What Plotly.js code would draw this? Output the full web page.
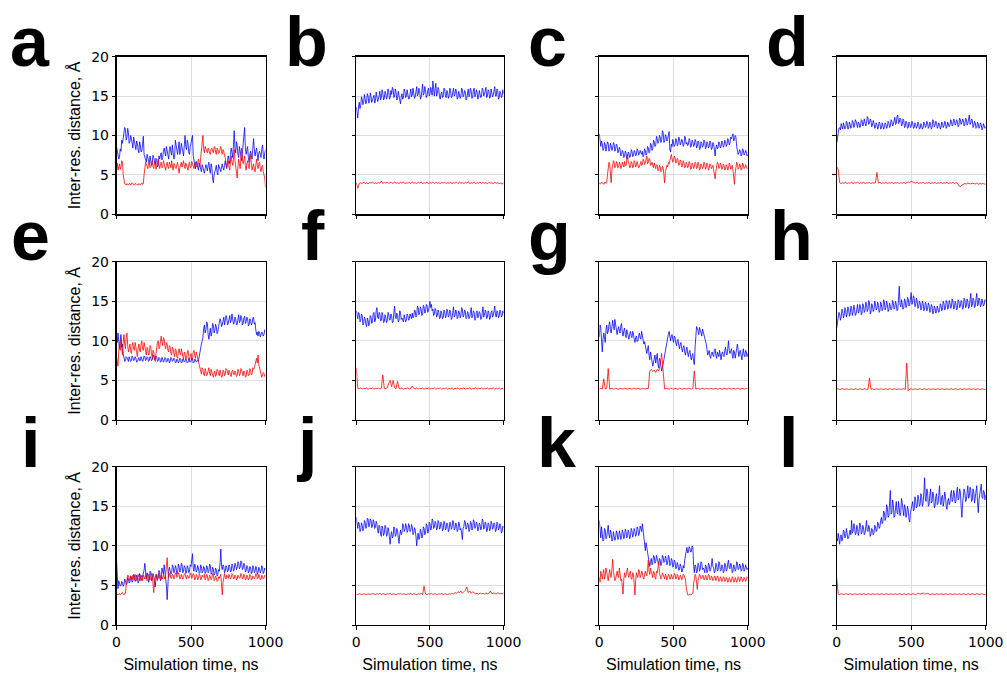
<!DOCTYPE html>
<html><head><meta charset="utf-8">
<script src="https://cdn.plot.ly/plotly-3.0.1.min.js"></script>
<style>html,body{margin:0;padding:0;background:#fff}#chart{width:1007px;height:676px}</style>
</head><body><div id="chart"></div>
<script>
// Panel labels and axis text
const panelLabels = ['a','b','c','d','e','f','g','h','i','j','k','l'];
const xTicks = [0, 500, 1000];
const yTicks = [0, 5, 10, 15, 20];
const xTitle = 'Simulation time, ns';
const yTitle = 'Inter-res. distance, Å';

// Distances (Å), evenly spaced over 0–1000 ns
const aBlue = [8.6,7.9,7.5,7.0,7.2,8.3,8.0,9.4,9.0,9.6,10.2,11.0,10.8,9.4,9.8,10.9,10.4,9.0,9.2,10.0,9.6,8.8,8.4,9.8,9.4,8.6,8.2,9.3,9.0,8.2,7.8,9.2,8.8,7.9,8.0,8.9,9.9,7.6,7.2,6.8,6.6,7.6,7.3,6.7,6.4,7.4,7.0,6.2,6.5,7.5,7.2,6.6,6.3,7.1,6.8,6.0,6.2,7.4,7.0,7.5,7.8,6.9,7.2,8.0,8.4,7.8,7.4,8.6,8.0,7.2,7.0,8.2,8.6,7.9,7.5,8.8,8.2,7.0,7.2,9.4,8.8,7.9,7.6,8.4,9.2,7.6,8.0,9.0,8.6,7.8,7.4,8.8,10.0,8.6,8.2,9.4,9.0,7.8,7.6,8.6,9.2,9.8,10.0,7.4,6.8,6.2,5.8,6.7,6.4,5.9,5.6,6.5,6.2,5.7,5.4,6.3,6.0,5.5,5.2,5.8,6.3,5.9,5.5,6.2,6.6,5.6,5.2,6.4,5.9,4.6,4.0,5.0,5.5,6.0,6.2,5.3,5.0,6.3,6.0,5.7,5.4,6.0,6.4,5.9,5.6,6.2,6.8,6.2,5.8,6.8,7.4,6.9,6.4,7.6,8.4,7.8,7.2,8.8,10.6,8.4,7.8,9.2,8.8,7.6,7.2,8.6,8.2,7.4,6.8,8.2,9.0,10.2,11.0,8.4,7.6,8.2,8.6,7.2,6.6,7.6,8.0,7.4,7.0,8.4,9.6,8.2,7.4,8.0,8.4,7.6,6.8,7.8,8.0,7.6,7.2,8.2,8.8,7.6,7.0,7.8,8.2];
const aRed = [6.0,6.5,5.6,6.1,6.4,5.7,6.0,6.8,6.6,5.0,4.0,3.9,3.8,3.7,3.9,3.8,3.7,3.9,3.9,3.7,3.8,4.0,3.9,3.8,3.7,3.9,3.9,3.8,3.8,3.7,3.9,3.8,3.7,3.9,4.0,3.8,3.9,5.0,6.0,6.6,6.4,5.9,5.8,6.4,6.6,5.9,6.0,6.5,6.8,6.1,5.8,6.6,6.4,5.7,6.0,6.6,7.0,6.1,5.8,6.3,6.6,5.9,6.0,6.8,6.4,5.8,5.6,6.2,6.6,6.0,5.8,6.6,6.2,5.9,6.8,6.2,5.6,6.4,6.4,5.9,5.8,6.3,6.6,5.9,5.2,5.9,6.2,6.6,6.0,6.4,6.8,6.1,5.8,6.5,6.2,5.7,5.6,6.3,6.6,5.9,6.0,6.7,6.4,6.0,5.8,6.4,6.6,6.1,6.0,6.5,7.0,6.4,6.0,7.2,8.0,8.6,10.0,8.2,7.8,8.6,8.4,8.0,7.8,8.4,8.2,7.7,7.6,8.3,8.4,8.0,7.8,8.5,8.6,7.9,7.6,8.4,8.2,7.7,7.8,8.3,8.6,8.0,7.6,8.2,8.0,7.4,7.2,6.4,6.0,6.4,6.8,6.0,5.6,6.6,7.4,6.6,6.2,7.0,8.2,6.8,6.0,5.4,4.6,6.0,7.0,6.4,5.8,7.2,8.4,7.0,6.4,6.9,7.4,6.2,5.6,6.4,6.8,6.2,5.8,6.8,7.6,6.4,5.6,6.0,6.4,5.8,5.4,6.2,7.0,6.2,5.8,6.4,6.6,5.8,5.4,6.0,6.2,5.4,5.0,4.6,3.4];
const bBlue = [13.6,12.4,12.2,13.6,14.2,13.4,13.8,14.9,14.6,13.9,14.2,15.2,14.8,14.0,14.4,15.3,15.0,14.1,14.3,15.4,14.9,14.2,14.5,15.0,15.1,14.1,14.4,15.5,14.9,14.3,14.6,15.2,15.6,14.5,14.8,15.8,15.4,14.5,14.7,15.6,15.3,14.6,14.9,15.9,15.6,14.6,14.8,15.7,15.2,16.1,15.9,14.8,15.0,15.9,15.5,14.5,14.7,15.6,15.2,14.4,14.0,14.9,15.3,14.6,14.8,15.9,15.6,14.8,15.0,15.8,15.4,14.6,14.7,15.5,15.9,14.9,15.1,16.0,15.5,14.7,14.9,15.8,16.2,15.0,15.2,16.0,15.7,14.6,14.8,15.6,16.5,15.1,15.3,16.2,15.8,14.8,15.0,15.7,16.0,15.0,15.2,16.1,15.6,15.1,16.9,15.3,15.0,15.9,16.6,15.0,15.3,16.1,15.8,14.9,14.6,15.3,15.5,14.8,15.0,16.0,15.9,15.0,14.8,15.7,15.4,14.7,15.0,16.0,15.7,14.8,14.9,15.5,16.0,15.0,15.2,15.9,15.6,14.6,14.8,15.6,15.3,14.7,14.9,16.0,15.8,14.9,15.1,15.7,15.5,14.5,14.7,15.4,15.9,14.9,15.2,16.0,15.6,14.7,14.9,15.8,16.0,14.9,15.1,15.8,15.5,14.6,14.8,15.7,15.4,14.8,15.0,16.0,15.8,15.0,15.2,15.9,16.1,14.8,15.0,15.8,15.6,14.7,14.9,15.9,15.5,14.9,15.1,15.8,16.2,15.0,15.0,15.9,15.7,14.6,14.8,15.6,15.4,14.8,15.0,15.8,15.3];
const bRed = [4.0,3.3,3.9,4.0,3.9,4.1,3.9,4.0,3.85,4.05,3.95,4.1,3.9,4.0,3.9,4.05,3.95,4.2,3.9,4.05,3.95,4.1,3.9,4.05,4.0,3.9,4.1,3.95,4.0,3.9,4.05,3.95,4.1,3.9,4.0,3.95,4.05,3.9,4.1,3.95,4.0,3.9,4.05,3.95,4.1,3.9,4.0,3.95,4.05,3.9,4.0,3.95,4.1,3.9,4.05,3.95,4.0,3.9,4.05,3.95,4.1,3.9,4.0,3.95,4.05,3.9,4.0,3.95,4.1,3.9,4.05,3.95,4.0,3.9,4.05,3.95,4.15,3.9,4.0,3.95,4.05,3.9,4.0,3.95,4.1,3.9,4.05,3.95,4.0,3.9,4.05,3.95,4.0,3.9,4.05,3.95,4.0,3.9,3.95,3.85,3.9];
const cBlue = [10.2,9.0,8.6,9.3,9.0,8.1,8.3,9.1,8.8,8.0,8.4,9.2,9.0,8.0,8.2,9.0,8.7,8.1,8.4,9.1,8.9,8.0,8.3,8.9,8.7,7.8,8.0,8.5,8.2,7.4,7.6,8.1,7.9,7.2,7.4,8.0,7.8,7.0,7.2,7.9,7.7,7.2,7.4,8.2,8.0,7.3,7.5,8.1,7.9,7.4,7.6,8.3,8.1,7.5,7.7,8.1,7.8,7.6,8.0,7.3,7.5,8.3,8.1,7.5,7.7,8.6,8.4,7.8,8.0,9.0,8.8,8.1,8.3,9.4,9.2,8.6,8.8,9.9,9.6,9.0,9.2,10.0,9.8,9.1,9.4,10.6,10.4,9.1,9.3,10.1,9.9,9.3,9.5,10.3,10.5,8.2,7.9,8.9,8.6,9.5,9.2,8.6,8.8,9.6,9.4,8.7,8.9,9.8,9.6,8.8,9.0,9.5,9.3,8.6,8.8,9.9,9.7,8.9,9.1,8.7,8.9,9.6,9.4,8.5,8.7,9.4,9.2,8.6,8.8,9.5,9.3,8.4,8.6,9.3,9.1,8.2,8.4,9.2,9.0,8.5,8.7,9.4,9.2,8.3,8.5,9.2,9.0,8.4,8.6,9.3,9.1,8.2,8.4,9.1,8.9,8.0,7.4,8.4,8.8,8.3,8.5,9.2,9.0,8.4,8.6,9.3,9.1,8.5,8.7,9.4,9.2,8.6,8.8,9.6,9.4,8.8,9.0,9.8,9.6,9.9,10.2,9.3,9.5,10.0,9.8,8.6,8.2,7.6,7.8,8.2,8.0,7.4,7.6,8.3,8.1,7.5,7.7,8.1,7.9,7.4,7.6];
const cRed = [4.0,3.8,3.9,4.1,4.0,3.9,3.8,4.0,4.1,3.9,4.0,5.0,6.0,6.6,6.4,5.2,4.0,5.6,6.2,6.8,6.6,5.9,6.0,6.7,6.5,5.9,6.1,6.6,6.4,5.8,6.0,6.6,6.3,6.0,6.7,6.1,6.2,6.9,7.6,6.6,6.4,5.9,6.0,6.7,6.5,5.9,6.1,6.8,6.6,6.0,6.2,6.7,6.4,5.9,6.0,6.6,6.7,6.2,6.3,7.0,6.8,6.3,6.5,7.0,7.4,6.4,6.6,7.1,6.9,6.2,6.3,6.6,6.1,5.9,6.5,6.2,5.8,6.3,6.2,5.5,5.6,6.2,6.0,5.4,5.5,6.1,5.9,5.0,4.0,5.4,5.8,6.2,6.0,6.6,6.4,7.0,7.5,7.6,7.1,6.6,6.8,7.4,7.2,6.5,6.6,7.1,6.9,6.2,6.3,6.9,6.7,6.0,6.2,6.8,6.5,5.9,6.0,6.6,6.4,5.9,6.1,6.7,6.5,5.7,5.8,6.5,6.3,5.8,6.0,6.6,6.5,5.8,5.9,6.6,6.3,5.6,5.8,6.4,6.2,5.8,6.0,6.6,6.4,5.7,5.9,6.5,6.3,5.6,5.8,6.4,6.2,5.8,6.0,6.2,5.6,5.2,4.5,5.4,6.0,6.6,6.4,5.8,5.9,6.5,6.3,5.7,5.8,6.4,6.2,5.6,5.7,6.3,6.1,5.6,5.8,6.5,6.3,5.7,5.9,6.2,5.6,4.6,3.8,5.2,6.0,6.6,6.4,5.7,5.8,6.4,6.2,5.6,5.7,6.5,6.3,5.8,5.9,6.3,6.1,5.8,5.9];
const dBlue = [9.0,9.8,10.4,10.9,11.0,10.7,11.5,10.9,10.8,11.6,11.3,10.8,11.0,11.8,11.6,10.8,10.9,11.7,11.4,10.9,11.1,11.9,11.7,11.0,11.2,12.0,11.8,11.1,11.0,11.7,11.5,11.0,11.2,12.0,11.9,11.2,11.4,12.1,11.8,11.2,11.5,12.4,12.2,11.4,11.6,12.1,11.9,11.1,11.3,11.9,11.6,10.9,11.0,11.6,11.4,10.8,11.1,11.7,11.5,10.8,10.9,11.6,11.3,10.8,11.0,11.6,11.4,10.9,11.1,11.8,11.6,11.0,11.2,12.0,11.8,11.2,11.4,12.0,12.3,11.4,11.5,12.4,12.6,11.5,11.7,12.2,12.0,11.2,11.4,12.1,11.9,11.0,11.2,11.8,11.6,10.9,11.0,11.7,11.5,11.0,11.2,11.8,11.6,10.9,11.0,11.6,11.4,10.9,11.1,11.7,11.5,10.8,10.9,11.5,11.3,10.8,11.0,11.7,11.5,11.0,11.2,11.8,11.6,10.9,11.1,11.7,11.5,10.8,11.0,12.0,11.8,11.1,11.3,11.8,11.6,10.9,11.1,11.6,11.4,10.8,11.0,11.7,11.5,11.0,11.2,11.8,11.6,10.9,11.1,11.7,11.5,11.1,11.3,12.0,11.8,11.2,11.4,12.1,11.9,11.3,11.5,12.0,11.8,11.1,11.3,12.2,12.0,11.4,11.6,12.1,11.9,11.2,11.4,12.2,12.0,11.3,11.5,12.3,12.6,11.4,11.6,12.1,11.9,11.0,11.2,11.8,11.6,10.9,11.0,11.7,11.5,10.9,11.1,11.6,11.4,10.7,10.9,11.5,11.3,10.9,11.1];
const dRed = [6.0,5.7,4.0,3.9,4.0,3.95,4.05,3.9,4.0,3.95,4.05,3.9,4.0,3.95,4.1,3.9,4.0,3.95,4.05,3.9,4.0,3.95,4.05,3.9,4.0,3.95,4.0,5.3,3.95,4.05,3.9,4.0,3.95,4.05,3.9,4.0,3.95,4.05,3.9,4.0,3.95,4.05,3.9,4.0,3.95,4.05,3.9,4.0,4.1,4.0,4.2,4.1,4.0,3.95,4.05,3.9,4.0,3.95,4.05,3.9,4.0,3.95,4.05,3.9,4.0,3.95,4.05,3.9,4.0,3.95,4.05,3.9,4.0,3.95,4.05,3.9,4.0,3.95,4.05,3.9,4.0,3.95,3.6,3.5,3.7,3.8,3.9,3.85,3.95,3.9,3.85,3.95,3.9,3.85,3.95,3.8,3.9,3.85,3.9,3.8,3.8];
const eBlue = [10.5,9.8,11.0,10.2,9.0,10.1,10.8,9.2,9.6,8.4,7.8,7.4,7.5,8.0,7.9,7.5,7.4,8.0,7.8,7.4,7.5,8.1,7.9,7.5,7.6,8.0,7.8,7.3,7.4,7.9,7.9,7.5,7.5,8.0,7.8,7.4,7.6,8.1,8.0,7.5,7.6,8.0,7.9,7.4,7.5,8.0,7.8,7.5,7.6,8.2,8.1,7.6,7.7,8.1,7.9,7.4,7.5,7.9,7.8,7.3,7.4,7.9,7.7,7.3,7.5,7.9,7.8,7.3,7.4,7.8,7.7,7.2,7.4,7.9,7.8,7.4,7.5,7.8,7.7,7.2,7.3,7.7,7.6,7.2,7.4,7.8,7.7,7.2,7.3,7.7,7.6,7.3,7.4,7.7,7.5,7.2,7.3,7.8,7.6,7.3,7.4,7.8,7.7,7.2,7.3,7.7,7.6,7.3,7.4,7.6,7.5,8.2,8.8,9.2,9.6,10.0,10.4,11.5,12.0,11.0,11.4,12.4,12.2,10.8,10.2,11.0,11.6,10.6,11.0,12.2,12.0,11.0,11.3,12.1,11.8,10.9,11.1,11.8,12.2,12.8,12.5,11.8,12.0,12.8,13.0,12.0,12.4,13.2,12.9,12.0,12.2,13.0,13.2,12.3,12.6,13.4,12.9,12.1,12.3,13.0,12.8,12.0,12.1,13.0,13.3,12.3,12.5,13.2,12.9,12.0,12.2,12.9,13.1,12.2,12.4,13.0,12.8,11.9,12.0,12.8,12.6,12.0,12.2,12.9,13.0,12.1,12.3,11.4,10.8,11.1,10.6,11.2,11.0,10.5,10.7,11.1,11.0,10.6,10.8,11.4,11.3];
const eRed = [8.0,7.0,6.8,8.6,9.5,8.8,10.2,9.0,8.2,9.8,10.8,9.6,9.0,10.4,11.0,9.4,8.6,9.0,9.6,8.8,8.4,9.4,9.8,9.0,8.8,9.8,9.2,8.4,8.0,9.0,9.6,8.8,8.6,9.6,10.0,9.0,8.8,9.8,9.4,8.6,8.2,9.2,9.0,8.2,8.4,9.4,9.2,8.4,7.8,8.8,8.6,7.8,7.4,8.4,9.4,9.8,10.0,9.0,9.2,10.2,10.6,9.8,9.4,10.4,10.2,9.4,9.0,9.8,9.6,8.8,8.6,9.4,9.2,8.4,8.2,9.2,9.0,8.4,8.0,9.0,8.8,8.0,7.8,8.6,9.0,8.4,8.2,9.0,8.6,7.9,7.6,8.6,8.4,7.6,7.8,8.6,8.8,8.0,7.4,8.0,8.4,7.8,7.6,8.6,8.8,8.2,7.8,8.6,8.2,7.6,7.4,7.0,6.4,6.1,5.8,6.6,6.4,5.8,5.6,6.5,6.2,5.6,5.8,6.4,6.6,5.9,5.6,6.4,6.1,5.6,5.4,6.0,6.2,5.5,5.7,6.4,6.3,5.8,5.6,6.3,6.0,5.4,5.5,6.3,6.2,5.6,5.8,6.5,6.4,5.9,5.7,6.3,6.1,5.6,5.5,6.2,6.3,5.8,5.7,6.2,6.0,5.5,5.6,6.4,6.2,5.6,5.8,6.5,6.4,5.8,5.6,6.2,6.0,5.4,5.5,6.3,6.1,5.6,5.7,6.5,6.3,5.7,5.8,6.6,6.4,6.6,7.0,7.4,7.8,7.2,8.2,7.0,6.4,6.0,5.8,5.4,5.6,6.0,5.9,5.5,5.6];
const fBlue = [13.8,13.0,12.8,13.6,13.4,12.4,12.6,13.4,13.2,12.0,12.2,13.0,12.8,12.1,11.8,12.9,12.6,11.9,12.2,13.2,13.0,12.2,12.4,13.5,13.6,12.4,12.6,13.8,14.2,12.9,12.8,13.6,13.4,12.5,12.6,13.6,13.2,12.3,12.4,13.3,13.0,12.3,12.5,13.6,13.4,12.6,12.7,13.4,13.1,12.3,12.4,13.6,14.4,13.0,12.8,13.5,13.2,12.4,12.6,13.8,13.6,12.7,12.9,12.6,12.4,13.3,13.0,12.4,12.6,13.4,13.2,12.6,12.8,13.4,13.1,12.8,13.5,12.9,13.0,13.9,13.8,13.0,13.2,14.4,14.2,13.3,13.5,14.3,14.0,13.2,13.4,14.5,14.3,13.5,13.7,14.6,14.5,13.6,13.8,14.8,15.0,14.2,14.6,13.8,14.0,13.2,13.4,14.1,13.9,13.0,13.2,13.9,13.6,12.8,12.9,13.8,13.5,12.8,13.0,13.9,13.7,12.9,13.1,14.0,13.8,13.0,13.2,13.9,13.6,12.7,12.9,13.6,14.3,13.0,13.2,13.9,13.7,12.8,13.0,13.8,13.6,12.9,13.1,14.2,14.0,13.0,13.2,13.9,13.7,12.8,12.9,13.7,13.5,12.8,13.0,13.6,14.2,12.9,13.1,13.8,13.6,12.6,12.8,13.6,13.8,12.9,13.1,13.7,13.5,12.7,12.8,13.6,14.3,13.0,13.2,13.9,13.7,12.8,13.0,13.8,13.6,12.7,12.9,13.6,13.8,13.0,13.2,13.8,14.4,13.2,13.0,13.8,13.6,12.9,13.1,13.9,13.7,13.0,13.2,13.8,13.5];
const fRed = [6.6,4.0,3.95,4.05,3.9,4.0,3.95,4.05,3.9,4.0,3.95,4.05,3.9,4.0,3.95,4.05,3.9,4.0,5.7,4.0,3.95,4.05,4.6,5.0,4.2,5.0,4.1,3.95,4.9,4.0,3.95,4.05,3.9,4.0,3.95,4.05,3.9,4.0,4.3,4.0,3.95,4.05,3.9,4.0,3.95,4.05,3.9,4.0,3.95,4.05,3.9,4.0,3.95,4.05,3.9,4.0,3.95,4.05,3.9,4.0,3.95,4.05,3.9,4.0,3.95,4.05,3.9,4.0,3.95,4.05,3.9,4.0,3.95,4.05,3.9,4.0,3.95,4.05,3.9,4.0,3.95,4.05,3.9,4.0,3.95,4.05,3.9,4.0,3.95,4.05,3.9,4.0,3.95,4.05,3.9,4.0,3.95,4.05,3.9,4.0,3.95];
const gBlue = [10.5,12.0,11.6,9.6,8.6,10.2,11.0,10.4,9.8,11.4,12.0,10.9,11.2,12.0,12.4,11.4,11.0,11.8,12.6,11.8,11.4,12.7,12.2,11.2,10.8,11.4,11.8,11.2,11.0,11.9,12.2,11.0,10.6,11.3,11.6,10.8,10.4,11.4,11.0,10.4,10.2,10.8,11.2,10.6,10.4,11.2,10.9,10.2,9.8,10.4,10.6,9.9,10.0,10.6,11.0,10.4,10.2,11.2,10.8,10.2,9.6,9.9,9.2,8.8,8.4,9.0,9.4,8.2,7.6,8.6,8.2,7.4,6.8,7.4,7.8,8.2,7.2,7.8,8.4,7.0,6.6,7.8,7.6,6.8,6.2,6.6,7.0,7.6,8.2,8.8,9.4,9.8,10.2,10.8,11.2,10.4,10.0,10.6,10.8,10.2,9.8,10.6,10.4,9.7,9.4,10.0,10.2,9.4,9.0,9.6,9.8,9.0,8.6,9.2,9.4,8.6,8.2,8.8,9.2,8.4,8.0,8.6,8.8,8.0,7.6,8.2,8.4,7.4,7.0,9.2,11.0,11.8,11.6,10.9,10.8,11.7,11.4,10.8,10.6,11.5,11.2,10.8,10.4,10.0,9.6,9.0,8.2,8.5,8.8,8.0,7.8,8.4,8.6,8.2,8.0,8.8,9.0,8.2,7.8,8.6,8.4,8.0,8.8,8.2,7.6,8.4,8.6,8.1,8.0,8.8,9.2,8.4,8.2,9.0,10.0,8.8,8.4,8.7,9.0,8.2,7.8,8.8,8.6,7.8,8.2,9.0,9.6,8.4,8.0,8.6,8.8,8.2,7.6,8.4,9.0,8.2,8.0,8.8,8.6,8.0,8.4];
const gRed = [3.9,4.0,3.9,5.2,3.9,4.0,6.5,3.9,4.0,3.95,3.9,4.0,3.95,3.9,4.0,3.95,3.9,4.0,3.95,3.9,4.0,3.95,3.9,4.0,3.95,3.9,4.0,3.95,3.9,4.0,3.95,3.9,4.0,3.95,6.2,6.4,6.1,6.3,6.0,6.4,6.2,7.0,8.4,6.2,3.9,4.0,3.95,3.9,4.0,3.95,3.9,4.0,3.95,3.9,4.0,3.95,3.9,4.0,3.95,3.9,4.0,3.95,3.9,4.0,6.2,3.9,4.0,3.95,3.9,4.0,3.95,3.9,4.0,3.95,3.9,4.0,3.95,3.9,4.0,3.95,3.9,4.0,3.95,3.9,4.0,3.95,3.9,4.0,3.95,3.9,4.0,3.95,3.9,4.0,3.95,3.9,4.0,3.95,3.9,4.0,3.95];
const hBlue = [11.6,12.2,12.8,13.6,13.4,12.6,13.0,14.0,13.8,12.9,13.2,14.2,13.9,13.0,13.4,14.3,14.0,13.1,13.3,14.4,14.2,13.2,13.6,14.5,14.0,13.2,13.4,14.2,14.6,13.5,13.7,14.6,14.3,13.3,13.5,14.7,14.4,13.6,13.8,14.9,14.6,13.7,14.0,15.1,14.8,13.4,13.6,14.7,14.4,13.7,13.9,15.0,14.7,13.9,14.1,14.9,14.5,13.6,13.8,14.9,14.6,13.8,14.0,15.2,14.9,13.9,14.2,15.0,14.6,13.7,13.9,14.8,14.5,13.9,14.1,15.1,14.8,14.0,14.2,15.0,14.6,13.8,14.0,15.0,16.9,14.6,14.3,15.2,14.8,14.0,14.2,15.3,15.0,14.2,14.4,15.5,15.3,14.4,14.6,15.4,16.1,14.6,14.9,15.7,15.4,14.3,14.5,15.4,15.1,14.1,14.3,15.0,14.8,13.9,14.1,15.0,14.7,13.8,14.0,14.9,14.6,13.8,14.0,14.8,14.5,13.6,13.8,14.6,14.4,13.4,13.6,14.4,14.2,13.5,13.7,14.4,14.1,13.6,13.8,14.7,14.5,13.8,14.0,15.0,14.7,13.9,14.1,15.1,14.9,14.0,14.2,15.1,14.8,14.1,14.3,15.3,15.0,14.0,14.2,15.0,14.7,13.9,14.1,15.2,15.0,14.2,14.4,15.1,14.9,14.0,14.2,15.4,15.2,14.2,14.4,15.3,15.0,14.1,14.3,15.4,16.0,14.3,14.5,15.4,15.2,14.2,14.4,15.3,16.0,14.4,14.6,15.4,15.1,14.3,14.5,15.3,15.0,14.4,14.6,15.2,15.0];
const hRed = [3.9,3.95,3.85,3.9,3.95,3.85,3.9,3.95,3.85,3.9,3.95,3.85,3.9,3.95,3.85,3.9,3.95,3.85,3.9,3.95,3.85,3.9,5.3,3.9,3.95,3.85,3.9,3.95,3.85,3.9,3.95,3.85,3.9,3.95,3.85,3.9,3.95,3.85,3.9,3.95,3.85,3.9,3.95,3.85,3.9,3.95,3.85,7.2,3.7,3.9,3.95,3.85,3.9,3.95,3.85,3.9,3.95,3.85,3.9,3.95,3.85,3.9,3.95,3.85,3.9,3.95,3.85,3.9,3.95,3.85,3.9,3.95,3.85,3.9,3.95,3.85,3.9,3.95,3.85,3.9,3.95,3.85,3.9,3.95,3.85,3.9,3.95,3.85,3.9,3.95,3.85,3.9,3.95,3.85,3.9,3.95,3.85,3.9,3.95,3.85,3.9];
const iBlue = [8.3,5.0,4.6,5.6,5.3,4.9,5.0,5.5,5.4,4.9,5.1,5.8,5.6,5.1,5.2,6.0,5.8,5.3,5.4,6.2,6.0,5.4,5.6,6.4,6.2,5.5,5.7,6.3,6.0,5.3,5.5,6.5,6.2,5.6,5.8,6.2,6.4,6.9,7.8,6.0,5.8,6.6,6.3,5.4,5.6,6.8,6.6,5.6,5.8,6.5,6.2,5.4,4.8,6.0,6.4,5.8,6.0,6.9,6.6,5.6,5.8,7.2,6.8,6.4,7.6,6.6,6.2,5.0,3.2,6.0,6.8,7.3,7.0,6.4,6.6,7.6,7.4,6.6,6.8,7.5,7.2,6.4,6.6,7.7,7.4,6.7,6.9,7.8,7.6,6.6,6.8,7.5,7.3,6.5,6.6,7.5,7.2,6.6,6.8,7.6,7.4,8.0,9.0,7.2,6.8,7.7,7.4,6.7,6.9,7.5,7.2,6.5,6.6,7.6,7.4,6.6,6.8,7.4,7.2,6.5,6.7,7.5,7.3,6.6,6.8,7.7,7.5,6.4,6.6,7.3,7.1,6.3,6.5,7.2,7.0,6.2,6.4,7.0,6.8,7.8,9.6,7.4,7.0,7.6,7.4,6.6,6.8,7.5,7.3,6.7,6.9,7.6,7.4,6.7,6.8,7.7,7.5,6.8,7.0,7.8,7.6,7.0,7.2,8.0,7.8,7.1,7.3,8.1,7.9,7.0,7.2,7.8,7.6,6.7,6.9,7.5,7.3,6.6,6.8,7.4,7.2,6.5,6.7,7.5,7.3,6.6,6.8,7.4,7.2,6.4,6.6,7.3,7.1,6.6,6.8,7.5,7.3,6.5,6.7,7.2,7.0];
const iRed = [4.0,3.9,3.8,3.9,4.0,3.8,3.9,4.0,4.1,3.9,3.8,4.0,4.0,5.0,5.8,6.3,6.2,5.6,5.6,6.2,6.0,5.7,6.3,5.9,5.7,6.4,6.1,5.6,5.8,6.4,6.2,5.6,5.7,6.3,6.0,5.6,6.3,5.9,5.8,6.4,6.1,5.6,5.7,6.4,6.2,5.7,5.9,6.5,6.3,5.2,4.1,5.6,6.0,6.4,5.8,5.6,6.2,6.5,5.9,5.7,6.3,6.0,5.8,6.4,6.1,5.8,6.4,7.2,8.5,6.8,6.0,6.5,6.4,5.9,5.9,6.4,6.3,5.8,6.0,6.6,6.5,6.0,6.1,6.6,6.4,5.8,5.9,6.4,6.2,5.8,6.0,6.5,6.4,5.9,5.8,6.3,6.2,5.9,6.0,6.6,6.5,5.9,6.1,6.5,6.3,5.7,5.8,6.4,6.2,5.7,5.9,6.4,6.3,5.7,5.8,6.3,6.1,6.0,6.4,5.7,5.9,6.4,6.2,5.6,5.8,6.3,6.1,5.7,5.9,6.5,6.3,5.6,5.7,6.2,6.0,5.5,5.6,6.1,5.9,6.3,6.4,5.0,3.8,5.4,6.2,6.5,6.0,5.8,6.3,6.0,5.9,6.4,6.2,5.8,6.0,6.5,6.4,5.8,5.9,6.3,6.2,5.7,5.8,6.3,6.1,5.9,6.0,6.5,6.3,5.8,5.9,6.4,6.2,5.7,5.8,6.3,6.1,5.7,5.9,6.4,6.3,5.7,5.8,6.2,6.1,5.8,6.0,6.5,6.4,5.8,5.9,6.4,6.2,5.7,5.8,6.3,6.1,5.8,5.9,6.3,6.2];
const jBlue = [13.6,12.8,12.2,13.0,12.8,11.8,12.0,12.9,12.6,11.9,12.2,13.2,13.0,12.2,12.4,13.5,13.4,12.4,12.6,13.4,13.2,12.3,12.5,13.3,13.0,12.2,12.4,13.1,12.8,11.9,11.6,12.6,12.4,11.4,11.2,12.5,12.2,11.3,11.6,12.6,12.4,11.2,11.4,12.3,12.0,11.0,10.2,11.4,11.8,11.0,11.2,12.4,12.2,11.2,11.4,12.2,11.9,11.0,10.3,11.4,12.0,11.4,11.6,12.8,12.6,11.8,12.0,12.8,12.5,11.7,11.9,12.8,12.6,11.8,12.0,12.7,12.4,11.4,11.6,12.3,12.0,11.2,10.0,11.0,11.6,10.8,11.0,12.1,11.8,11.0,11.2,12.4,12.2,11.4,11.6,12.8,12.6,11.6,11.8,13.0,12.8,12.0,12.2,13.4,13.2,12.2,12.4,13.1,12.9,12.0,12.2,13.2,13.0,12.1,12.3,13.0,12.8,11.9,12.1,13.1,12.9,12.0,12.2,12.9,12.7,11.8,12.0,13.0,12.8,12.1,12.3,13.2,13.0,12.0,12.2,12.9,12.7,11.8,12.0,13.0,12.8,12.0,12.2,11.6,10.8,12.2,12.4,13.2,13.0,12.1,12.3,12.9,12.7,11.8,12.0,13.1,12.9,12.0,12.2,13.3,13.1,12.2,12.4,13.0,12.8,11.9,12.1,12.9,12.7,12.0,12.2,13.4,13.2,12.1,12.3,13.0,12.8,11.8,12.0,12.9,12.7,11.9,12.1,13.1,12.9,12.1,12.3,12.9,12.7,11.8,12.0,13.0,12.8,12.0,12.2,12.8,12.6,11.6,11.8,12.5,12.3];
const jRed = [3.9,3.85,3.95,3.9,3.85,3.95,3.9,3.85,3.95,3.9,3.85,4.0,3.9,3.85,3.95,3.9,4.0,3.85,3.95,3.9,3.85,3.95,3.9,4.0,3.85,3.95,3.9,3.85,3.95,3.9,4.0,3.85,3.95,3.9,3.85,3.95,3.9,4.0,3.85,3.95,3.9,3.85,3.95,3.9,4.0,3.85,4.9,3.9,3.85,3.95,3.9,4.0,3.85,3.95,3.9,3.85,3.95,3.9,4.0,3.85,3.95,3.9,3.85,3.95,3.9,4.0,3.95,4.1,4.0,4.2,4.1,4.3,4.0,4.2,4.4,4.8,4.1,4.3,4.0,4.2,4.1,3.95,4.0,3.9,4.05,3.95,4.0,3.9,4.05,3.95,4.0,4.3,3.95,4.05,4.0,3.9,4.1,3.95,4.0,3.95,4.0];
const kBlue = [13.2,11.4,11.0,12.4,11.8,10.6,10.8,12.2,12.0,10.9,11.2,12.0,12.6,11.4,11.0,12.0,11.6,10.6,10.8,11.8,11.4,10.7,11.0,11.9,11.6,10.8,11.0,11.9,11.5,10.8,11.1,12.0,11.7,10.9,11.2,12.1,11.8,11.0,11.3,12.0,11.6,10.9,11.2,12.2,11.9,11.1,11.4,12.2,11.8,11.2,11.5,12.4,12.1,11.3,11.6,12.5,12.2,11.8,12.8,11.8,10.6,9.8,9.4,10.4,10.0,9.2,8.6,8.0,7.4,8.0,8.4,7.6,7.8,8.8,8.6,7.8,8.0,8.8,8.4,7.6,7.6,8.4,8.2,7.5,7.8,8.8,8.6,7.9,8.0,8.7,8.4,7.6,7.8,8.8,8.5,7.5,7.6,8.4,8.2,7.3,7.4,8.2,8.0,7.1,7.2,7.9,7.6,6.9,7.0,7.7,7.4,6.7,6.8,7.5,7.2,8.2,9.0,9.6,9.8,9.1,9.2,9.9,9.7,9.2,9.3,10.0,9.8,7.6,6.6,7.6,7.4,6.6,6.8,7.8,7.6,6.8,7.0,8.0,7.8,7.0,7.2,7.0,6.6,7.6,7.4,6.6,6.8,7.8,7.6,6.8,7.0,7.6,8.4,7.4,7.2,6.6,6.8,7.8,7.6,6.8,7.0,8.0,7.8,6.8,6.9,7.6,7.4,6.6,6.8,7.8,7.6,6.8,7.0,7.8,8.2,7.2,7.1,7.8,7.6,6.6,6.8,7.6,7.4,6.8,7.0,8.0,7.8,7.0,7.1,7.7,7.5,6.8,6.9,7.8,7.6,6.8,7.0,7.6,7.4,7.0,7.2];
const kRed = [6.0,5.4,6.8,6.2,5.8,6.5,7.0,5.8,6.2,7.2,6.6,6.0,5.6,6.4,7.0,6.2,6.0,7.0,8.3,6.8,6.4,5.6,5.8,6.6,6.8,6.2,6.0,7.2,6.6,5.6,5.8,5.0,3.9,5.8,6.6,6.0,6.2,6.8,7.2,6.2,6.0,6.6,6.8,5.8,5.8,6.6,6.4,5.2,3.8,5.6,6.6,6.2,6.0,7.0,6.8,6.0,6.2,6.8,6.6,6.0,5.8,6.4,6.8,6.4,6.2,7.0,8.2,6.8,6.4,7.2,6.8,6.2,6.0,6.8,6.6,6.0,5.8,6.8,6.6,7.2,8.0,6.6,6.2,5.8,6.0,6.6,6.4,5.9,5.8,6.4,6.2,5.7,5.9,6.4,6.3,5.8,5.8,6.4,6.2,5.8,6.0,6.5,6.4,5.8,5.9,6.4,6.2,5.7,5.8,6.3,6.1,5.7,5.9,6.4,6.3,5.9,5.8,4.8,3.9,3.8,3.8,3.9,3.9,3.8,3.8,4.0,4.0,5.2,6.0,6.4,6.2,5.4,4.5,5.6,6.1,6.4,6.3,5.8,5.9,6.3,6.2,5.7,5.8,6.3,6.1,5.7,5.9,6.4,6.3,5.7,5.8,6.2,6.0,5.6,5.7,6.2,6.1,5.6,5.8,6.2,6.0,5.5,5.6,6.1,5.9,5.5,5.7,6.1,6.0,5.5,5.6,6.0,5.9,5.4,5.5,6.0,5.8,5.4,5.6,6.1,5.9,5.4,5.5,6.0,5.8,5.4,5.6,6.1,6.0,5.5,5.7,6.1,5.9,5.5,5.6,6.0,5.8,5.5,5.7,6.1,6.0];
const lBlue = [11.0,10.6,11.6,10.8,10.2,11.2,11.4,10.6,11.0,12.0,11.8,11.0,11.2,12.2,11.6,10.9,11.0,11.8,12.0,11.4,13.2,11.6,11.8,12.8,12.4,11.4,11.6,12.6,12.2,11.3,11.8,12.9,12.6,11.5,11.7,12.6,12.3,11.4,11.6,12.4,13.2,11.9,11.8,12.6,12.3,11.2,11.5,12.2,12.0,11.4,11.6,12.6,12.4,11.8,12.0,13.0,12.8,12.2,12.4,13.2,13.6,12.8,13.0,14.4,14.2,13.2,13.6,15.2,14.8,13.6,13.8,15.4,17.0,14.0,14.2,15.8,15.2,13.6,13.8,14.8,15.6,14.2,14.0,15.6,15.0,13.8,14.2,16.0,15.4,14.2,13.8,15.2,14.8,13.6,14.0,15.0,14.6,13.4,13.0,14.2,14.8,15.2,15.6,14.4,14.6,16.2,15.8,14.8,15.0,16.4,16.0,15.0,15.2,16.6,16.2,15.0,15.4,16.8,18.6,15.8,15.6,17.2,16.8,15.0,15.2,16.4,17.2,15.4,15.6,16.8,16.4,14.8,15.0,16.2,16.6,15.2,15.4,16.4,17.6,15.6,15.2,16.2,16.4,15.0,15.6,16.8,16.2,15.0,14.6,15.6,16.0,15.2,15.4,16.6,17.0,15.6,15.8,17.0,16.6,15.4,15.6,16.8,17.4,15.8,16.0,17.2,16.8,15.0,13.6,15.4,16.2,17.2,16.8,15.6,15.8,17.0,17.6,16.0,16.2,17.4,17.0,15.6,15.8,17.2,16.8,15.4,16.2,17.0,17.6,15.6,14.2,15.8,16.4,17.2,17.8,16.2,16.0,17.0,16.8,15.8,16.4];
const lRed = [6.0,3.9,3.85,3.95,3.9,3.85,3.95,3.9,3.85,3.95,3.9,3.85,3.95,3.9,3.85,3.95,3.9,3.85,3.95,3.9,3.85,3.95,3.9,3.85,3.95,3.9,3.85,3.95,3.9,3.85,3.95,3.9,3.85,3.95,3.9,3.85,3.95,3.9,3.85,3.95,3.9,3.85,3.95,3.9,3.85,3.95,3.9,3.85,3.95,3.9,3.85,3.95,3.9,3.85,3.95,4.0,3.9,3.95,4.05,3.9,3.95,4.0,3.9,3.85,3.95,3.9,3.85,3.95,3.9,3.85,3.95,3.9,3.85,3.95,3.9,3.85,3.95,3.9,3.85,3.95,3.9,3.85,3.95,3.9,3.85,3.95,3.9,3.85,3.95,3.9,3.85,3.95,3.9,3.85,3.95,3.9,3.85,3.95,3.9,3.85,3.9];

const blueSeries = [aBlue,bBlue,cBlue,dBlue,eBlue,fBlue,gBlue,hBlue,iBlue,jBlue,kBlue,lBlue];
const redSeries  = [aRed,bRed,cRed,dRed,eRed,fRed,gRed,hRed,iRed,jRed,kRed,lRed];

// Layout geometry (pixels)
const W = 1007, H = 676;
const colX = [[116.5,265.5],[356.3,503.6],[599.3,747.8],[836.7,985.7]];
const rowY = [[56.6,214.3],[261.7,420],[466.7,625]];
const labelPos = [[30,66],[306,66],[547,66],[787,66],[30,260],[313,260],[549,260],[791,260],[30,467],[306,467],[556,467],[788,467]];

const timeOf = arr => arr.map((_, i) => i * 1000 / (arr.length - 1));
const data = [];
const layout = {
  width: W, height: H,
  margin: {l:0, r:0, t:0, b:0},
  paper_bgcolor: '#fff', plot_bgcolor: '#fff',
  showlegend: false,
  font: {family: 'DejaVu Sans', size: 14, color: '#000'},
  annotations: []
};
for (let i = 0; i < 12; i++) {
  const r = Math.floor(i / 4), c = i % 4;
  const sfx = i === 0 ? '' : String(i + 1);
  const xa = 'x' + sfx, ya = 'y' + sfx;
  data.push({x: timeOf(blueSeries[i]), y: blueSeries[i], xaxis: xa, yaxis: ya, type: 'scatter', mode: 'lines',
             line: {color: 'rgba(0,0,255,0.78)', width: 1}, hoverinfo: 'skip'});
  data.push({x: timeOf(redSeries[i]), y: redSeries[i], xaxis: xa, yaxis: ya, type: 'scatter', mode: 'lines',
             line: {color: 'rgba(255,0,0,0.78)', width: 1}, hoverinfo: 'skip'});
  const common = {showgrid: true, gridcolor: '#dedede', gridwidth: 1, zeroline: false,
    showline: true, linecolor: '#000', linewidth: 1.2, mirror: true,
    ticks: 'outside', ticklen: 3.5, tickwidth: 1, tickcolor: '#000',
    tickfont: {family: 'DejaVu Sans', size: 14, color: '#000'}, fixedrange: true};
  layout['xaxis' + sfx] = Object.assign({}, common, {
    domain: [colX[c][0] / W, colX[c][1] / W], range: [0, 1000], anchor: ya,
    tickmode: 'array', tickvals: xTicks, ticktext: xTicks.map(String),
    showticklabels: r === 2,
    title: r === 2 ? {text: xTitle, font: {family: 'Liberation Sans', size: 16, color: '#000'}, standoff: 10} : {text: ''}
  });
  layout['yaxis' + sfx] = Object.assign({}, common, {
    domain: [1 - rowY[r][1] / H, 1 - rowY[r][0] / H], range: [0, 20], anchor: xa,
    tickmode: 'array', tickvals: yTicks, ticktext: yTicks.map(String),
    showticklabels: c === 0,
    title: c === 0 ? {text: yTitle, font: {family: 'Liberation Sans', size: 16, color: '#000'}, standoff: 6} : {text: ''}
  });
  const [lx, base] = labelPos[i];
  layout.annotations.push({text: '<b>' + panelLabels[i] + '</b>', xref: 'paper', yref: 'paper',
    x: lx / W, y: 1 - (base - 24) / H, xanchor: 'center', yanchor: 'middle', showarrow: false,
    font: {family: 'Liberation Sans', size: 70, color: '#000'}});
}
Plotly.newPlot('chart', data, layout, {staticPlot: true, displayModeBar: false});
</script></body></html>
